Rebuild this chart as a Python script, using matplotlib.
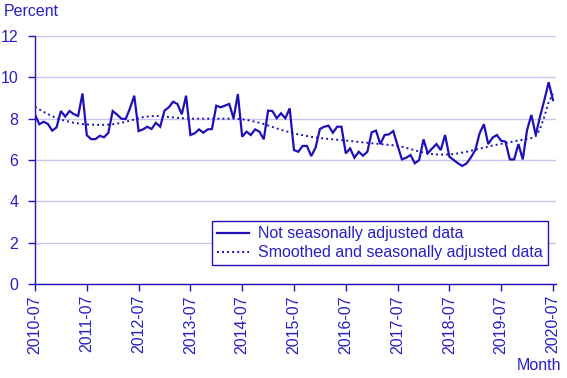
import matplotlib
matplotlib.use("Agg")
import matplotlib.pyplot as plt

# Monthly data 2010-07 .. 2020-07
months = [f"{y}-{m:02d}" for y in range(2010, 2021) for m in range(1, 13)]
months = months[6:6 + 121]

not_adjusted = [
    8.2, 7.73, 7.85, 7.74, 7.42, 7.58, 8.37, 8.1, 8.37, 8.22,
    8.13, 9.22, 7.2, 7.01, 7.01, 7.17, 7.1, 7.32, 8.37, 8.2,
    8.0, 7.98, 8.5, 9.11, 7.4, 7.48, 7.61, 7.5, 7.8, 7.61,
    8.39, 8.55, 8.82, 8.71, 8.21, 9.11, 7.21, 7.29, 7.48, 7.32,
    7.48, 7.5, 8.63, 8.55, 8.63, 8.71, 8.02, 9.19, 7.13, 7.37,
    7.21, 7.48, 7.37, 7.0, 8.39, 8.37, 8.02, 8.26, 8.02, 8.5,
    6.48, 6.4, 6.68, 6.68, 6.19, 6.6, 7.5, 7.61, 7.66, 7.32,
    7.61, 7.61, 6.32, 6.56, 6.11, 6.4, 6.21, 6.4, 7.34, 7.42,
    6.77, 7.21, 7.24, 7.4, 6.7, 6.03, 6.11, 6.24, 5.84, 6.0,
    7.0, 6.32, 6.56, 6.77, 6.48, 7.21, 6.16, 6.0, 5.84, 5.71,
    5.84, 6.13, 6.48, 7.29, 7.73, 6.77, 7.08, 7.21, 6.93, 6.89,
    6.03, 6.03, 6.77, 6.03, 7.45, 8.18, 7.21, 8.1, 8.9, 9.76,
    8.9,
]

smoothed = [
    8.58, 8.45, 8.33, 8.22, 8.12, 8.03, 7.96, 7.9, 7.85, 7.8,
    7.77, 7.74, 7.72, 7.71, 7.7, 7.7, 7.7, 7.71, 7.73, 7.76,
    7.8, 7.85, 7.9, 7.96, 8.02, 8.07, 8.1, 8.12, 8.13, 8.12,
    8.1, 8.08, 8.06, 8.04, 8.02, 8.01, 8.0, 8.0, 8.0, 8.0,
    8.0, 8.0, 8.0, 8.0, 8.0, 8.0, 8.0, 7.99, 7.97, 7.94,
    7.9, 7.85, 7.8, 7.74, 7.67, 7.6, 7.53, 7.46, 7.4, 7.34,
    7.29, 7.24, 7.2, 7.16, 7.12, 7.09, 7.06, 7.04, 7.02, 7.0,
    6.98, 6.96, 6.94, 6.92, 6.9, 6.87, 6.85, 6.83, 6.81, 6.79,
    6.77, 6.75, 6.73, 6.71, 6.68, 6.64, 6.59, 6.53, 6.47, 6.41,
    6.36, 6.32, 6.29, 6.27, 6.26, 6.26, 6.27, 6.29, 6.32, 6.36,
    6.4, 6.45, 6.5, 6.55, 6.6, 6.65, 6.7, 6.74, 6.78, 6.82,
    6.86, 6.9, 6.94, 6.98, 7.02, 7.06, 7.15, 7.5, 8.1, 8.8,
    9.2,
]

tick_labels = ["2010-07", "2011-07", "2012-07", "2013-07", "2014-07", "2015-07",
               "2016-07", "2017-07", "2018-07", "2019-07", "2020-07"]
y_ticks = [0, 2, 4, 6, 8, 10, 12]

LINE = "#1f10b8"
TEXT = "#2a1fc4"
GRID = "#c9c5ee"
FS = 11.5

plt.rcParams["font.family"] = ["Liberation Sans", "DejaVu Sans"]
plt.rcParams["font.size"] = FS

W, H = 567, 378
fig = plt.figure(figsize=(W / 100, H / 100), dpi=100)
ax = fig.add_axes([35 / W, 94 / H, (556 - 35) / W, 248 / H])

x = list(range(len(months)))
ax.plot(x, not_adjusted, color=LINE, lw=1.6, label="Not seasonally adjusted data",
        solid_joinstyle="miter")
ax.plot(x, smoothed, color=LINE, lw=1.4, ls=(0, (1, 1.6)),
        label="Smoothed and seasonally adjusted data")

ax.set_xlim(0, 120.7)
ax.set_ylim(0, 12)
ax.set_yticks(y_ticks)
ax.set_yticklabels([str(v) for v in y_ticks])
tick_pos = [months.index(t) for t in tick_labels]
ax.set_xticks(tick_pos)
ax.set_xticklabels(tick_labels, rotation=90)

for s in ["top", "right"]:
    ax.spines[s].set_visible(False)
for s in ["left", "bottom"]:
    ax.spines[s].set_color(LINE)
    ax.spines[s].set_linewidth(1.0)

ax.tick_params(axis="both", colors=LINE, labelcolor=TEXT, length=5, width=1.0)
ax.tick_params(axis="y", pad=7)
ax.tick_params(axis="x", pad=3)
ax.grid(axis="y", color=GRID, lw=1.0)
ax.set_axisbelow(True)

leg = ax.legend(loc="lower right", bbox_to_anchor=(548 / W, (378 - 265) / H),
                bbox_transform=fig.transFigure, frameon=True, fancybox=False,
                edgecolor=LINE, framealpha=1, handlelength=2.0, handletextpad=0.6,
                borderpad=0.3, labelspacing=0.25, borderaxespad=0, fontsize=FS)
leg.get_frame().set_linewidth(1.0)
for t in leg.get_texts():
    t.set_color(TEXT)

fig.text(4 / W, 1 - 12 / H, "Percent", color=TEXT, fontsize=FS, va="center", ha="left")
fig.text(561 / W, 1 - 366 / H, "Month", color=TEXT, fontsize=FS, va="center", ha="right")

fig.savefig("out.png", dpi=100)
